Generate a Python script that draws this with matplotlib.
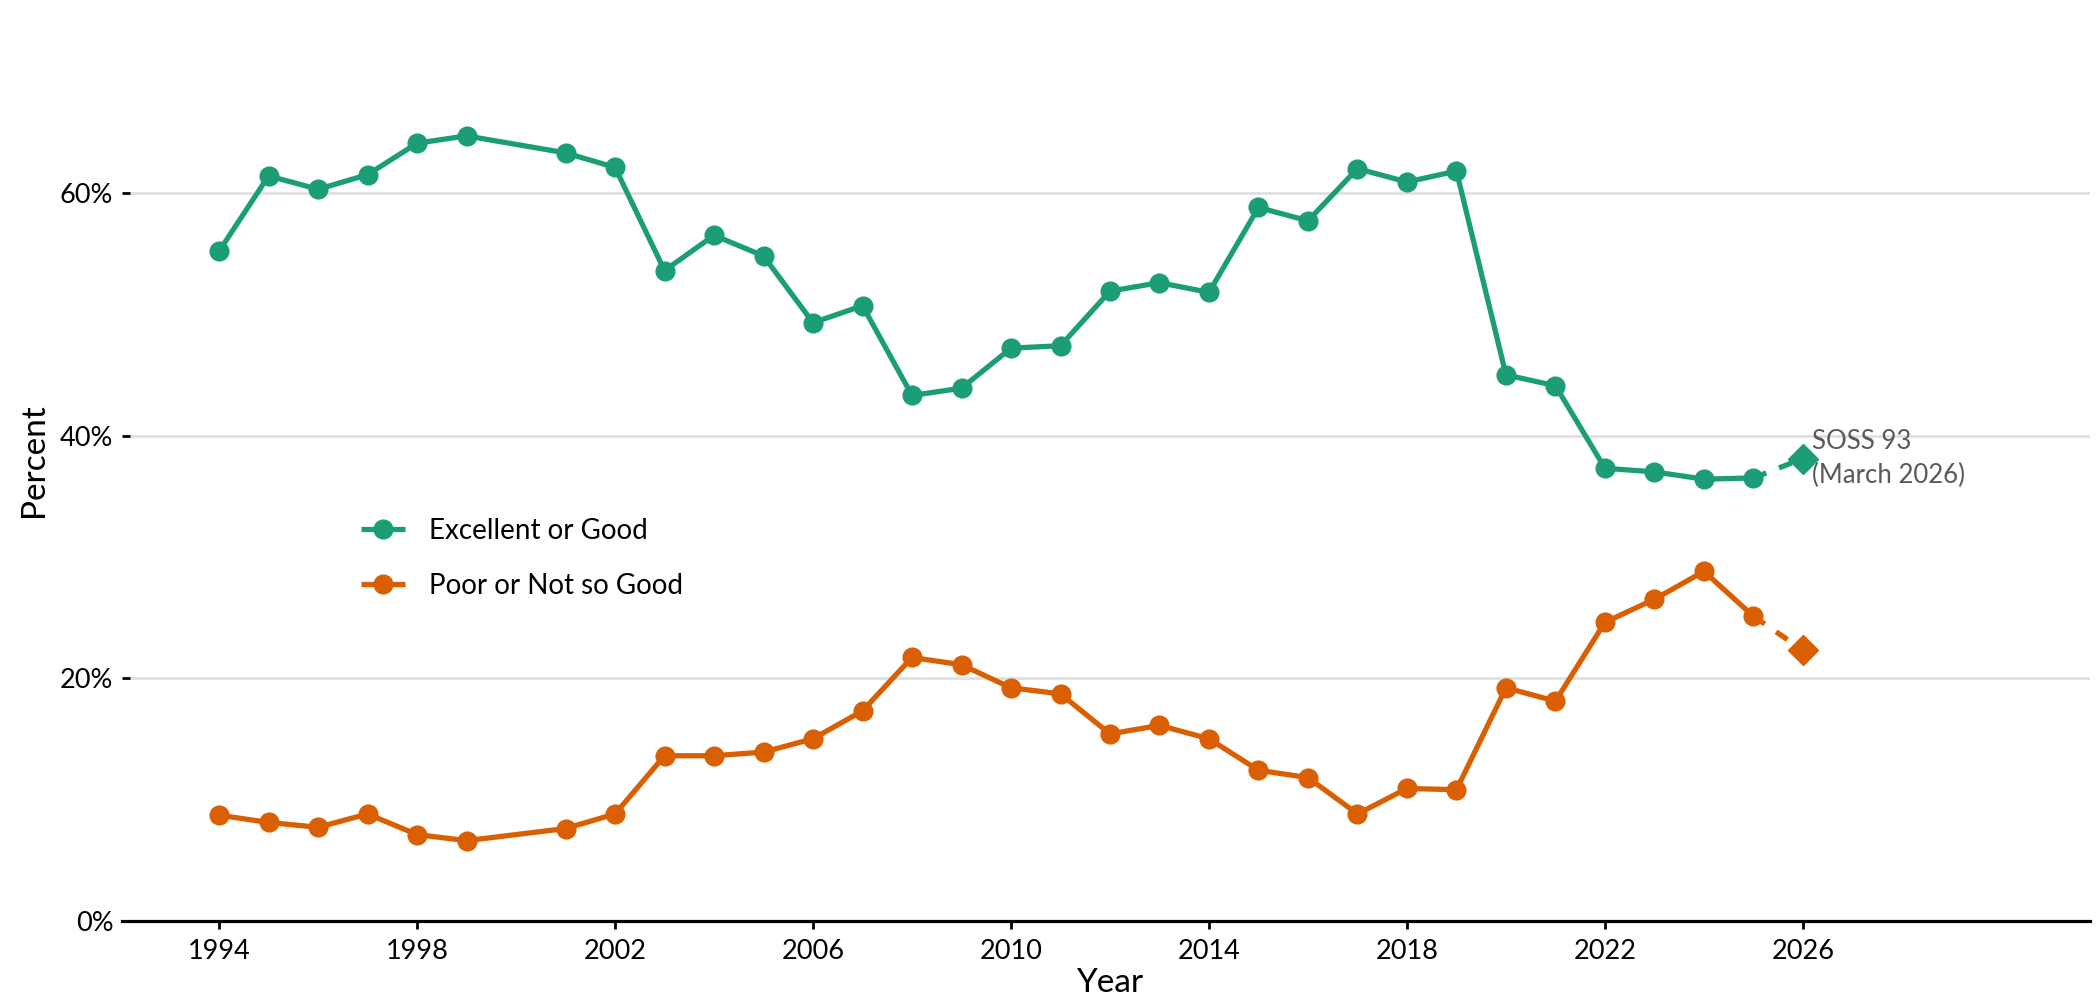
import matplotlib
matplotlib.use("Agg")
import matplotlib.pyplot as plt
from matplotlib.ticker import FuncFormatter

plt.rcParams['font.family'] = ['Lato', 'DejaVu Sans']

years = [1994, 1995, 1996, 1997, 1998, 1999, 2001, 2002, 2003, 2004, 2005, 2006,
         2007, 2008, 2009, 2010, 2011, 2012, 2013, 2014, 2015, 2016, 2017, 2018,
         2019, 2020, 2021, 2022, 2023, 2024, 2025]
excellent_good = [55.2, 61.4, 60.3, 61.5, 64.1, 64.7, 63.3, 62.1, 53.6, 56.5, 54.8, 49.3,
                  50.7, 43.3, 43.9, 47.2, 47.4, 51.9, 52.6, 51.8, 58.8, 57.7, 62.0, 60.9,
                  61.8, 45.0, 44.1, 37.3, 37.0, 36.4, 36.5]
poor_notgood = [8.7, 8.1, 7.7, 8.8, 7.1, 6.6, 7.6, 8.8, 13.6, 13.6, 13.9, 15.0,
                17.3, 21.7, 21.1, 19.2, 18.7, 15.4, 16.1, 15.0, 12.4, 11.8, 8.8, 10.9,
                10.8, 19.2, 18.1, 24.6, 26.5, 28.8, 25.1]
new_year = 2026
new_excellent_good = 38.1
new_poor_notgood = 22.3
series_labels = ["Excellent or Good", "Poor or Not so Good"]
annotation_text = "SOSS 93\n(March 2026)"
x_ticks = [1994, 1998, 2002, 2006, 2010, 2014, 2018, 2022, 2026]
y_ticks = [0, 20, 40, 60]

GREEN = "#1b9e77"
ORANGE = "#d95f02"

fig = plt.figure(figsize=(20.97, 9.99), dpi=100)
ax = fig.add_axes([130/2097, 1 - 920.7/999, (2090-130)/2097, 920.7/999])

lw = 3.8
ms = 13.5
for vals, newv, col, lab in [(excellent_good, new_excellent_good, GREEN, series_labels[0]),
                             (poor_notgood, new_poor_notgood, ORANGE, series_labels[1])]:
    ax.plot(years, vals, color=col, lw=lw, marker='o', ms=ms, label=lab,
            solid_capstyle='butt', zorder=3)
    ax.plot([years[-1], new_year], [vals[-1], newv], color=col, lw=lw,
            linestyle=(0, (2.6, 2.6)), zorder=2)
    ax.plot([new_year], [newv], color=col, marker='D', ms=15, linestyle='none', zorder=4)

ax.text(2026.18, 38.1, annotation_text, fontsize=18.5, color="#595959",
        ha='left', va='center', linespacing=1.4)

ax.set_xlim(1992.2, 2031.8)
ax.set_ylim(0, 920.7/12.13)
ax.set_xticks(x_ticks)
ax.set_yticks(y_ticks)
ax.yaxis.set_major_formatter(FuncFormatter(lambda v, p: f"{int(v)}%"))

for s in ['top', 'right', 'left']:
    ax.spines[s].set_visible(False)
ax.spines['bottom'].set_linewidth(2.3)
ax.spines['bottom'].set_color('black')
ax.spines['bottom'].set_bounds(1992.2 - 8/49.5, 2031.8)
ax.spines['bottom'].set_zorder(5)

ax.grid(axis='y', color='#e0e0e0', lw=2.0, zorder=0)
ax.set_axisbelow(True)
ax.tick_params(axis='both', length=6, width=2.0, color='black', labelsize=19.5, pad=7)
ax.tick_params(axis='y', pad=6)

ax.set_xlabel("Year", fontsize=24, labelpad=3)
ax.set_ylabel("Percent", fontsize=24, labelpad=8)

leg = ax.legend(loc='upper left', bbox_to_anchor=((361-130)/1960, (920.7-518)/920.7),
                frameon=False, fontsize=20, handlelength=1.6, handletextpad=0.85,
                labelspacing=1.05, borderpad=0, borderaxespad=0)

fig.savefig("out.png", dpi=100)
